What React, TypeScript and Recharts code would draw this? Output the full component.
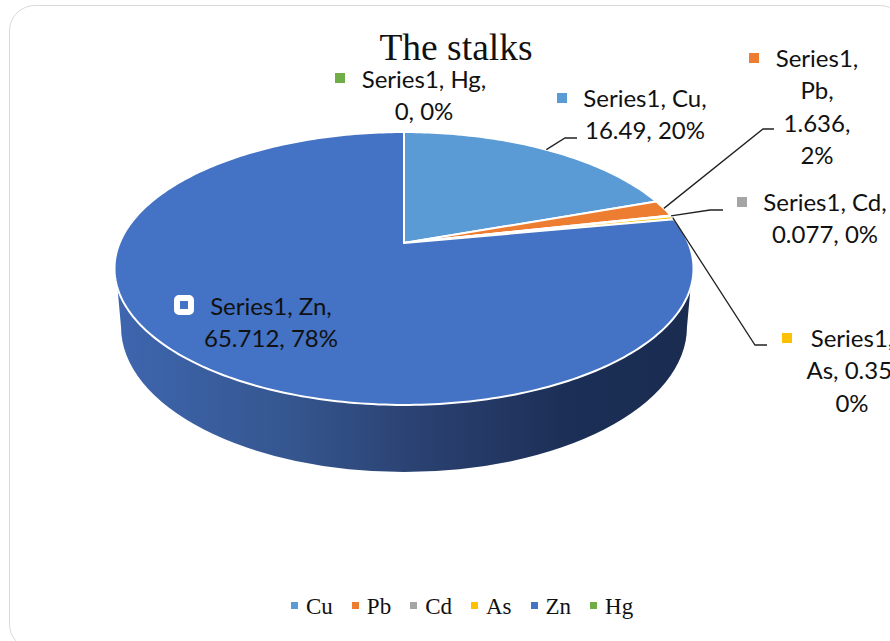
import { PieChart, Pie, Cell, Legend } from "recharts";

const CATEGORIES = ["Cu", "Pb", "Cd", "As", "Zn", "Hg"];
const VALUES = [16.49, 1.636, 0.077, 0.35, 65.712, 0];
const COLORS = ["#5b9bd5", "#ed7d31", "#a5a5a5", "#ffc000", "#4472c4", "#70ad47"];
const data = CATEGORIES.map((name, i) => ({ name, value: VALUES[i] }));

// perspective of the tilted disc
const TILT = 0.1868;
const SQUASH = 0.463;

// where each data label sits
const LABELS: Record<string, any> = {
  Cu: { x: 645, y: 107, mark: [557, 93], breaks: ["Series1, Cu,", "16.49, 20%"], elbow: [[565, 138], [577, 138]] },
  Pb: { x: 817, y: 67, mark: [749, 53], breaks: ["Series1,", "Pb,", "1.636,", "2%"], elbow: [[763, 129], [774, 129]] },
  Cd: { x: 825, y: 211, mark: [737, 197], breaks: ["Series1, Cd,", "0.077, 0%"], elbow: [[710, 210], [723, 210]] },
  As: { x: 852, y: 347, mark: [782, 333], breaks: ["Series1,", "As, 0.35,", "0%"], elbow: [[755, 345], [767, 345]] },
  Zn: { x: 271, y: 315, mark: null, breaks: ["Series1, Zn,", "65.712, 78%"] },
  Hg: { x: 424, y: 88, mark: [335, 73], breaks: ["Series1, Hg,", "0, 0%"] },
};

function project(cx: number, cy: number, r: number, deg: number) {
  const a = (deg * Math.PI) / 180;
  const u = Math.cos(a);
  const v = Math.sin(a);
  const d = 1 + TILT * v;
  return [cx + (r * u) / d, cy - (r * SQUASH * v) / d];
}

function DiscSlice(props: any) {
  const { cx, cy, outerRadius: r, startAngle, endAngle, fill, name } = props;
  const steps = Math.max(1, Math.ceil(Math.abs(endAngle - startAngle)));
  const pts = [];
  for (let i = 0; i <= steps; i++) {
    const p = project(cx, cy, r, startAngle + ((endAngle - startAngle) * i) / steps);
    pts.push(`${p[0]} ${p[1]}`);
  }
  const top = `M${cx} ${cy} L${pts.join(" L")} Z`;
  return (
    <g>
      {name === "Zn" && (
        <path
          d={`M${cx - r * 1.0074} ${cy + 45} L${cx - r * 0.995} ${cy + 84} A${r * 0.995} 145 0 0 0 ${cx + r * 0.995} ${cy + 84} L${cx + r * 1.0074} ${cy + 45} Z`}
          fill="url(#wall)"
        />
      )}
      <path d={top} fill={fill} stroke="#fff" strokeWidth={2} strokeLinejoin="round" />
    </g>
  );
}

function DataLabel(props: any) {
  const { cx, cy, outerRadius, midAngle, name, index } = props;
  const cfg = LABELS[name];
  let leader = null;
  if (cfg.elbow) {
    const s = project(cx, cy, outerRadius, midAngle);
    const pts = [s, ...cfg.elbow].map((p: number[]) => p.join(",")).join(" ");
    leader = <polyline points={pts} fill="none" stroke="#222" strokeWidth={1.3} />;
  }
  return (
    <g>
      {leader}
      {cfg.mark && <rect x={cfg.mark[0]} y={cfg.mark[1]} width={10} height={10} fill={COLORS[index]} />}
      {name === "Zn" && (
        <rect x={177} y={298} width={14} height={14} rx={2} fill={COLORS[index]} stroke="#fff" strokeWidth={6} />
      )}
      {cfg.breaks.map((t: string, i: number) => (
        <text
          key={t}
          x={cfg.x}
          y={cfg.y + i * 32.4}
          textAnchor="middle"
          fontFamily="Lato"
          fontSize={24}
          fill="#111"
        >
          {t}
        </text>
      ))}
    </g>
  );
}

function LegendRow({ payload }: any) {
  return (
    <div style={{ display: "flex", fontFamily: "'Liberation Serif'", fontSize: 23, color: "#111", lineHeight: "28px" }}>
      {(payload || []).map((item: any) => (
        <div key={item.value} style={{ display: "flex", alignItems: "center", marginRight: 19 }}>
          <span style={{ width: 7, height: 7, background: item.color, marginRight: 8, marginTop: -3 }} />
          {item.value}
        </div>
      ))}
    </div>
  );
}

export default function App() {
  return (
    <div style={{ position: "absolute", left: 0, top: 0, width: 890, height: 641, overflow: "hidden", background: "#fff" }}>
      <div
        style={{
          position: "absolute",
          left: 9,
          top: 5,
          width: 897,
          height: 645,
          border: "1.5px solid #d9d9d9",
          borderRadius: 26,
          boxSizing: "border-box",
        }}
      />
      <div style={{ position: "absolute", left: 0, top: 0 }}>
        <PieChart width={890} height={641} margin={{ top: 0, right: 0, bottom: 0, left: 0 }}>
          <defs>
            <linearGradient id="wall" x1="0" y1="0" x2="1" y2="0">
              <stop offset="0%" stopColor="#3e66af" />
              <stop offset="30%" stopColor="#35568f" />
              <stop offset="55%" stopColor="#293f6e" />
              <stop offset="80%" stopColor="#1b2e55" />
              <stop offset="100%" stopColor="#1a2c50" />
            </linearGradient>
          </defs>
          <text x={456} y={60} textAnchor="middle" fontFamily="'Liberation Serif'" fontSize={37.5} fill="#111">
            The stalks
          </text>
          <Pie
            data={data}
            dataKey="value"
            nameKey="name"
            cx={404}
            cy={243}
            innerRadius={0}
            outerRadius={284.4}
            startAngle={90}
            endAngle={-270}
            stroke="#fff"
            shape={DiscSlice}
            label={DataLabel}
            labelLine={false}
            isAnimationActive={false}
          >
            {data.map((entry, index) => (
              <Cell key={`cell-${index}`} fill={COLORS[index]} />
            ))}
          </Pie>
          <Legend
            content={LegendRow}
            itemSorter={null}
            wrapperStyle={{ position: "absolute", left: 291, top: 593, width: 400, bottom: "auto" }}
          />
        </PieChart>
      </div>
    </div>
  );
}
